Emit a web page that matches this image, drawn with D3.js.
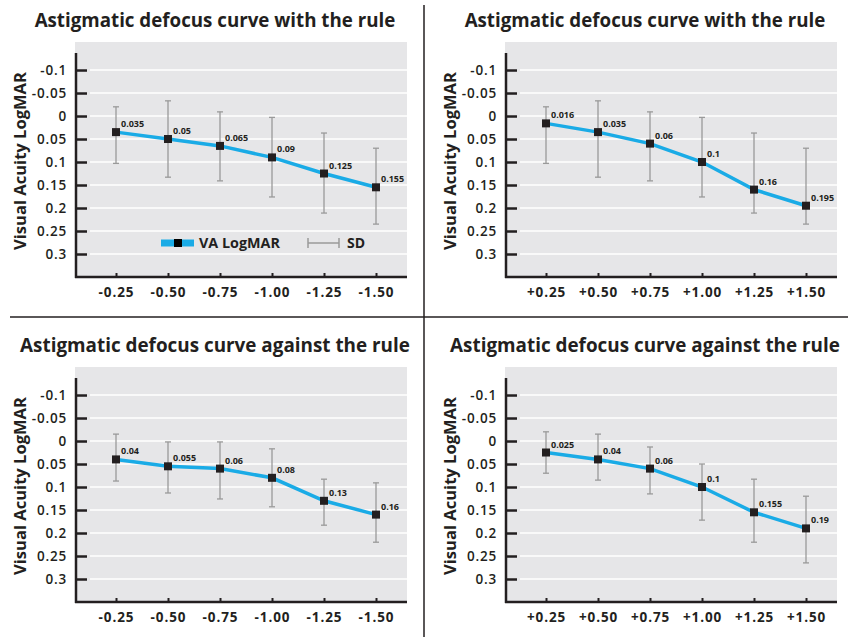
<!DOCTYPE html>
<html>
<head>
<meta charset="utf-8">
<script src="https://cdn.jsdelivr.net/npm/d3@7"></script>
<style>
	body { margin: 0; background: #fff; }
	text { font-family: "Open Sans", Lato, sans-serif; fill: #231f20; }
</style>
</head>
<body>
<div id="chart"></div>
<script>
// categories
var minusSteps = ["-0.25", "-0.50", "-0.75", "-1.00", "-1.25", "-1.50"];
var plusSteps = ["+0.25", "+0.50", "+0.75", "+1.00", "+1.25", "+1.50"];
var yTicks = [-0.1, -0.05, 0, 0.05, 0.1, 0.15, 0.2, 0.25, 0.3];

// with the rule, minus side
var wtrMinusVA = [0.035, 0.05, 0.065, 0.09, 0.125, 0.155];
var wtrMinusLo = [-0.02, -0.033, -0.009, 0.003, 0.037, 0.07];
var wtrMinusHi = [0.103, 0.133, 0.141, 0.176, 0.211, 0.235];

// with the rule, plus side
var wtrPlusVA = [0.016, 0.035, 0.06, 0.1, 0.16, 0.195];
var wtrPlusLo = [-0.02, -0.033, -0.009, 0.003, 0.037, 0.07];
var wtrPlusHi = [0.103, 0.133, 0.141, 0.176, 0.211, 0.235];

// against the rule, minus side
var atrMinusVA = [0.04, 0.055, 0.06, 0.08, 0.13, 0.16];
var atrMinusLo = [-0.015, 0.002, 0.002, 0.017, 0.083, 0.091];
var atrMinusHi = [0.087, 0.113, 0.126, 0.143, 0.183, 0.22];

// against the rule, plus side
var atrPlusVA = [0.025, 0.04, 0.06, 0.1, 0.155, 0.19];
var atrPlusLo = [-0.02, -0.015, 0.013, 0.05, 0.083, 0.12];
var atrPlusHi = [0.07, 0.085, 0.115, 0.172, 0.22, 0.265];

var titleWith = "Astigmatic defocus curve with the rule";
var titleAgainst = "Astigmatic defocus curve against the rule";

var blue = "#1aabe6";
var dark = "#231f20";
var sdGrey = "#9a9a9a";

var svg = d3.select("#chart")
  .append("svg")
	.attr("width", 855)
	.attr("height", 637);

// scale a text's font so it spans the given width
function fitWidth(sel, target, base) {
	var w = sel.node().getComputedTextLength();
	sel.style("font-size", (base * target / w) + "px");
}

function drawPanel(ox, oy, title, titleWidth, steps, va, lo, hi, legend) {
	var g = svg.append("g")
		.attr("transform", "translate(" + ox + "," + oy + ")");

	var x = d3.scalePoint().domain(steps).range([116, 376]);
	var y = d3.scaleLinear().domain([-0.137, 0.35]).range([53, 277]);

	var data = steps.map(function(s, i) {
		return { key: s, va: va[i], lo: lo[i], hi: hi[i] };
	});

	// title
	var t = g.append("text")
		.attr("x", 215)
		.attr("y", 27)
		.attr("text-anchor", "middle")
		.style("font-size", "18px")
		.style("font-weight", 700)
		.text(title);
	fitWidth(t, titleWidth, 18);

	// plot background
	g.append("rect")
		.attr("x", 75).attr("y", 42)
		.attr("width", 332).attr("height", 235)
		.attr("fill", "#e6e6e8");

	// grid lines
	g.selectAll(".grid")
		.data(yTicks)
	  .enter().append("line")
		.attr("x1", 90).attr("x2", 407)
		.attr("y1", function(d) { return y(d); })
		.attr("y2", function(d) { return y(d); })
		.attr("stroke", "#fff")
		.attr("stroke-width", 1.5);

	// y axis
	var yAxis = g.append("g")
		.attr("transform", "translate(76,0)")
		.call(d3.axisLeft(y).tickValues(yTicks).tickSize(-11).tickPadding(9)
			.tickFormat(function(d) { return String(d); }));
	yAxis.select(".domain").remove();
	yAxis.selectAll("line").attr("stroke", dark).attr("stroke-width", 2.5);
	yAxis.selectAll("text")
		.style("font-size", "13.5px")
		.style("font-weight", 600)
		.style("letter-spacing", "0.8px")
		.attr("fill", dark);

	// x axis
	var xAxis = g.append("g")
		.attr("transform", "translate(0,277)")
		.call(d3.axisBottom(x).tickSize(-4).tickPadding(10));
	xAxis.select(".domain").remove();
	xAxis.selectAll("line").attr("stroke", dark).attr("stroke-width", 2);
	xAxis.selectAll("text")
		.style("font-size", "13.5px")
		.style("font-weight", 700)
		.style("letter-spacing", "0.9px")
		.attr("fill", dark);

	// axis lines
	g.append("line")
		.attr("x1", 76).attr("x2", 76)
		.attr("y1", 53).attr("y2", 278)
		.attr("stroke", dark).attr("stroke-width", 2.5);
	g.append("line")
		.attr("x1", 75).attr("x2", 407)
		.attr("y1", 277).attr("y2", 277)
		.attr("stroke", dark).attr("stroke-width", 2.5);

	// y axis title
	var yt = g.append("text")
		.attr("transform", "translate(26,161) rotate(-90)")
		.attr("text-anchor", "middle")
		.style("font-size", "16px")
		.style("font-weight", 700)
		.text("Visual Acuity LogMAR");
	fitWidth(yt, 178, 16);

	// error bars
	var bars = g.selectAll(".sd")
		.data(data)
	  .enter().append("g")
		.attr("class", "sd")
		.attr("stroke", sdGrey)
		.attr("stroke-width", 1.3);
	bars.append("line")
		.attr("x1", function(d) { return x(d.key); })
		.attr("x2", function(d) { return x(d.key); })
		.attr("y1", function(d) { return y(d.lo); })
		.attr("y2", function(d) { return y(d.hi); });
	bars.append("line")
		.attr("x1", function(d) { return x(d.key) - 3; })
		.attr("x2", function(d) { return x(d.key) + 3; })
		.attr("y1", function(d) { return y(d.lo); })
		.attr("y2", function(d) { return y(d.lo); });
	bars.append("line")
		.attr("x1", function(d) { return x(d.key) - 3; })
		.attr("x2", function(d) { return x(d.key) + 3; })
		.attr("y1", function(d) { return y(d.hi); })
		.attr("y2", function(d) { return y(d.hi); });

	// VA line
	var line = d3.line()
		.x(function(d) { return x(d.key); })
		.y(function(d) { return y(d.va); });
	g.append("path")
		.datum(data)
		.attr("d", line)
		.attr("fill", "none")
		.attr("stroke", blue)
		.attr("stroke-width", 3.5);

	// markers
	g.selectAll(".dot")
		.data(data)
	  .enter().append("rect")
		.attr("x", function(d) { return x(d.key) - 4; })
		.attr("y", function(d) { return y(d.va) - 4; })
		.attr("width", 8).attr("height", 8)
		.attr("fill", dark);

	// value labels
	g.selectAll(".val")
		.data(data)
	  .enter().append("text")
		.attr("x", function(d) { return x(d.key) + 5; })
		.attr("y", function(d) { return y(d.va) - 5; })
		.style("font-size", "9px")
		.style("font-weight", 700)
		.text(function(d) { return String(d.va); });

	if (legend) {
		var lg = g.append("g");
		lg.append("line")
			.attr("x1", 161).attr("x2", 194)
			.attr("y1", 243).attr("y2", 243)
			.attr("stroke", blue).attr("stroke-width", 7);
		lg.append("rect")
			.attr("x", 174).attr("y", 239)
			.attr("width", 8).attr("height", 8)
			.attr("fill", "#000");
		var vt = lg.append("text")
			.attr("x", 199).attr("y", 248)
			.style("font-size", "14px")
			.style("font-weight", 700)
			.text("VA LogMAR");
		fitWidth(vt, 81, 14);
		var sd = lg.append("g").attr("stroke", sdGrey).attr("stroke-width", 1.5);
		sd.append("line").attr("x1", 308).attr("x2", 339).attr("y1", 243).attr("y2", 243);
		sd.append("line").attr("x1", 308).attr("x2", 308).attr("y1", 238).attr("y2", 248);
		sd.append("line").attr("x1", 339).attr("x2", 339).attr("y1", 238).attr("y2", 248);
		lg.append("text")
			.attr("x", 347).attr("y", 248)
			.style("font-size", "14px")
			.style("font-weight", 700)
			.text("SD");
	}
}

drawPanel(0, 0, titleWith, 361, minusSteps, wtrMinusVA, wtrMinusLo, wtrMinusHi, true);
drawPanel(430, 0, titleWith, 361, plusSteps, wtrPlusVA, wtrPlusLo, wtrPlusHi, false);
drawPanel(0, 325, titleAgainst, 390, minusSteps, atrMinusVA, atrMinusLo, atrMinusHi, false);
drawPanel(430, 325, titleAgainst, 390, plusSteps, atrPlusVA, atrPlusLo, atrPlusHi, false);

// panel dividers
svg.append("line")
	.attr("x1", 424).attr("x2", 424)
	.attr("y1", 5).attr("y2", 637)
	.attr("stroke", dark).attr("stroke-width", 1.5);
svg.append("line")
	.attr("x1", 10).attr("x2", 848)
	.attr("y1", 317).attr("y2", 317)
	.attr("stroke", dark).attr("stroke-width", 1.5);
</script>
</body>
</html>
